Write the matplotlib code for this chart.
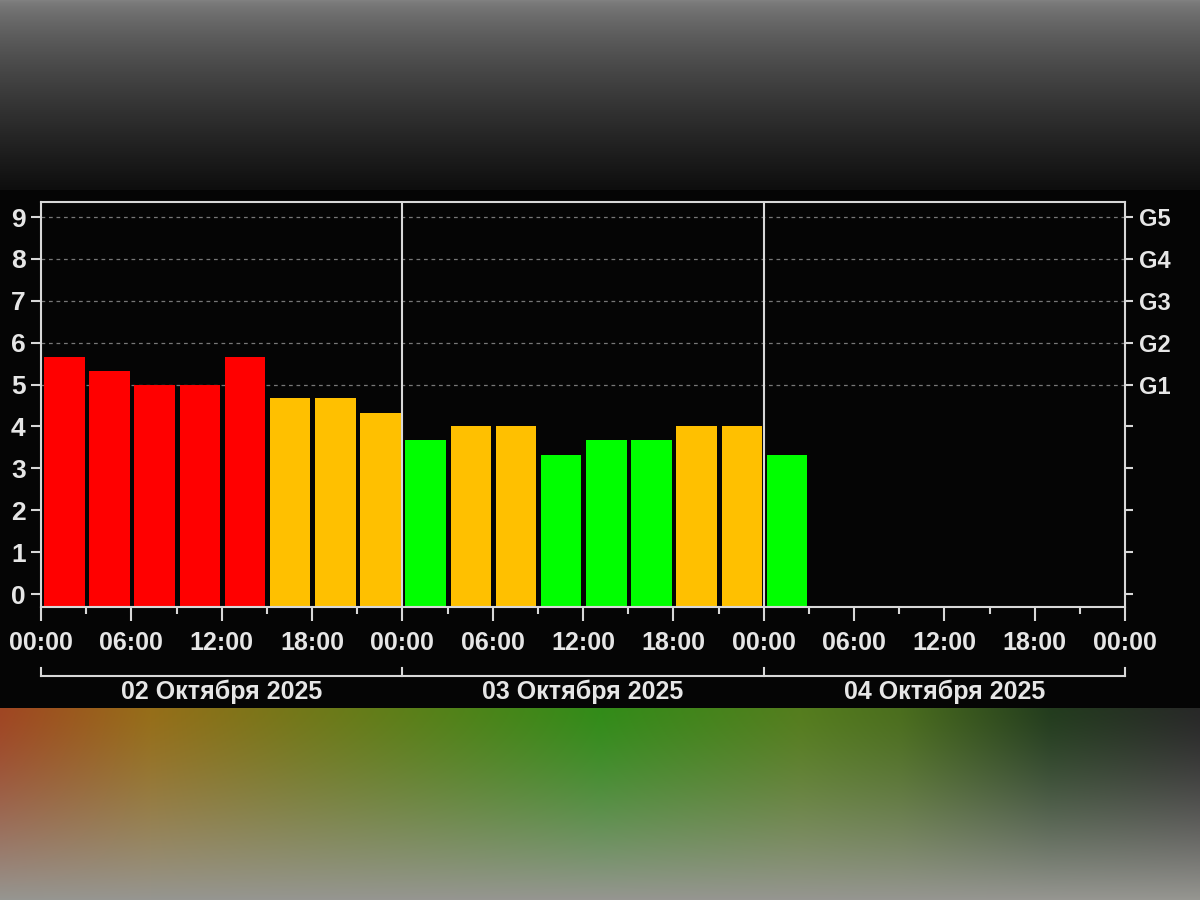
import numpy as np
import matplotlib
matplotlib.use("Agg")
from matplotlib import pyplot as plt
from matplotlib.ticker import MultipleLocator
import matplotlib.transforms as mtransforms

# 3-hour Kp index values, starting 02 Oct 2025 00:00
kp_values = [5.67, 5.33, 5.0, 5.0, 5.67, 4.67, 4.67, 4.33,
             3.67, 4.0, 4.0, 3.33, 3.67, 3.67, 4.0, 4.0,
             3.33]
day_labels = ["02 Октября 2025", "03 Октября 2025", "04 Октября 2025"]
hour_labels = ["00:00", "06:00", "12:00", "18:00"]
storm_labels = ["", "", "", "", "", "G1", "G2", "G3", "G4", "G5"]

RED, YELLOW, GREEN = "#ff0000", "#ffc000", "#00ff00"
FG = "#e6e6e6"
YMIN, YMAX = -0.31, 9.36


def kp_color(kp):
    if kp >= 5:
        return RED
    if kp >= 4:
        return YELLOW
    return GREEN


def blurred_background(fig):
    """ Soft blurred photo-like backdrop above and below the chart band """
    h, w = 900, 1200
    img = np.zeros((h, w, 3))
    # top: grey fading to near black
    rows = np.linspace(0, 1, 190)[:, None] ** 0.7
    top = (1 - rows) * np.array([128, 128, 128]) + rows * np.array([14, 14, 14])
    img[:190] = top[:, None, :]
    img[190:708] = 5
    # bottom: coloured blur fading to grey
    xs = [0, 150, 300, 600, 800, 900, 1050, 1200]
    cols = np.array([[160, 70, 35], [150, 110, 25], [115, 120, 25],
                     [50, 140, 25], [85, 125, 30], [75, 110, 30],
                     [35, 60, 30], [40, 40, 40]])
    xx = np.arange(w)
    row0 = np.stack([np.interp(xx, xs, cols[:, k]) for k in range(3)], axis=1)
    row1 = np.array([150, 150, 145])
    t = np.linspace(0, 1, h - 708)[:, None, None] ** 1.4
    img[708:] = (1 - t) * row0[None] + t * row1
    bg = fig.add_axes([0, 0, 1, 1], zorder=-10)
    bg.imshow(img.astype(np.uint8), aspect="auto", interpolation="bilinear")
    bg.axis("off")


plt.rcParams["font.family"] = ["Liberation Sans", "DejaVu Sans"]
plt.rcParams["font.weight"] = "bold"

fig = plt.figure(figsize=(12, 9), dpi=100)
blurred_background(fig)

ax = fig.add_axes([41 / 1200, 1 - 607 / 900, (1125 - 41) / 1200, 405 / 900])
ax.set_facecolor("#050505")

hours = np.arange(len(kp_values)) * 3
heights = np.array(kp_values) - YMIN
ax.bar(hours + 0.2, heights, width=2.7, bottom=YMIN, align="edge",
       color=[kp_color(v) for v in kp_values], zorder=2)

ax.set_xlim(0, 72)
ax.set_ylim(YMIN, YMAX)

# dashed grid for storm levels only
for lvl in range(5, 10):
    ax.axhline(lvl, color="#777777", lw=0.9, ls=(0, (3, 3)), zorder=1)
# day dividers
for d in (24, 48):
    ax.axvline(d, color="#d8d8d8", lw=1.5, zorder=3)

for s in ax.spines.values():
    s.set_color("#d8d8d8")
    s.set_linewidth(1.5)
    s.set_zorder(4)

ax.set_yticks(range(10))
ax.tick_params(axis="y", colors="#d8d8d8", labelcolor=FG, labelsize=19,
               length=7, width=1.5, pad=4)
ax.set_xticks(np.arange(0, 73, 6))
ax.set_xticklabels([hour_labels[i % 4] for i in range(13)])
ax.xaxis.set_minor_locator(MultipleLocator(3))
ax.tick_params(axis="x", which="major", colors="#d8d8d8", labelcolor=FG,
               labelsize=18, length=10, width=1.5, pad=7)
ax.tick_params(axis="x", which="minor", colors="#d8d8d8", length=5, width=1.5)

ax2 = ax.twinx()
ax2.set_ylim(ax.get_ylim())
ax2.set_yticks(range(10))
ax2.set_yticklabels(storm_labels)
ax2.tick_params(axis="y", colors="#d8d8d8", labelcolor=FG, labelsize=17,
                length=6, width=1.5, pad=4)
for s in ax2.spines.values():
    s.set_visible(False)

# date bracket below the hour labels
trans = mtransforms.blended_transform_factory(ax.transData, ax.transAxes)
ax.plot([0, 72], [-0.170, -0.170], color="#d8d8d8", lw=1.5,
        transform=trans, clip_on=False)
for d in (0, 24, 48, 72):
    ax.plot([d, d], [-0.170, -0.150], color="#d8d8d8", lw=1.5,
            transform=trans, clip_on=False)
for i, lab in enumerate(day_labels):
    ax.text(12 + 24 * i, -0.210, lab, transform=trans, ha="center",
            va="center", color=FG, fontsize=18, fontweight="bold")

fig.savefig("out.png", dpi=100)
